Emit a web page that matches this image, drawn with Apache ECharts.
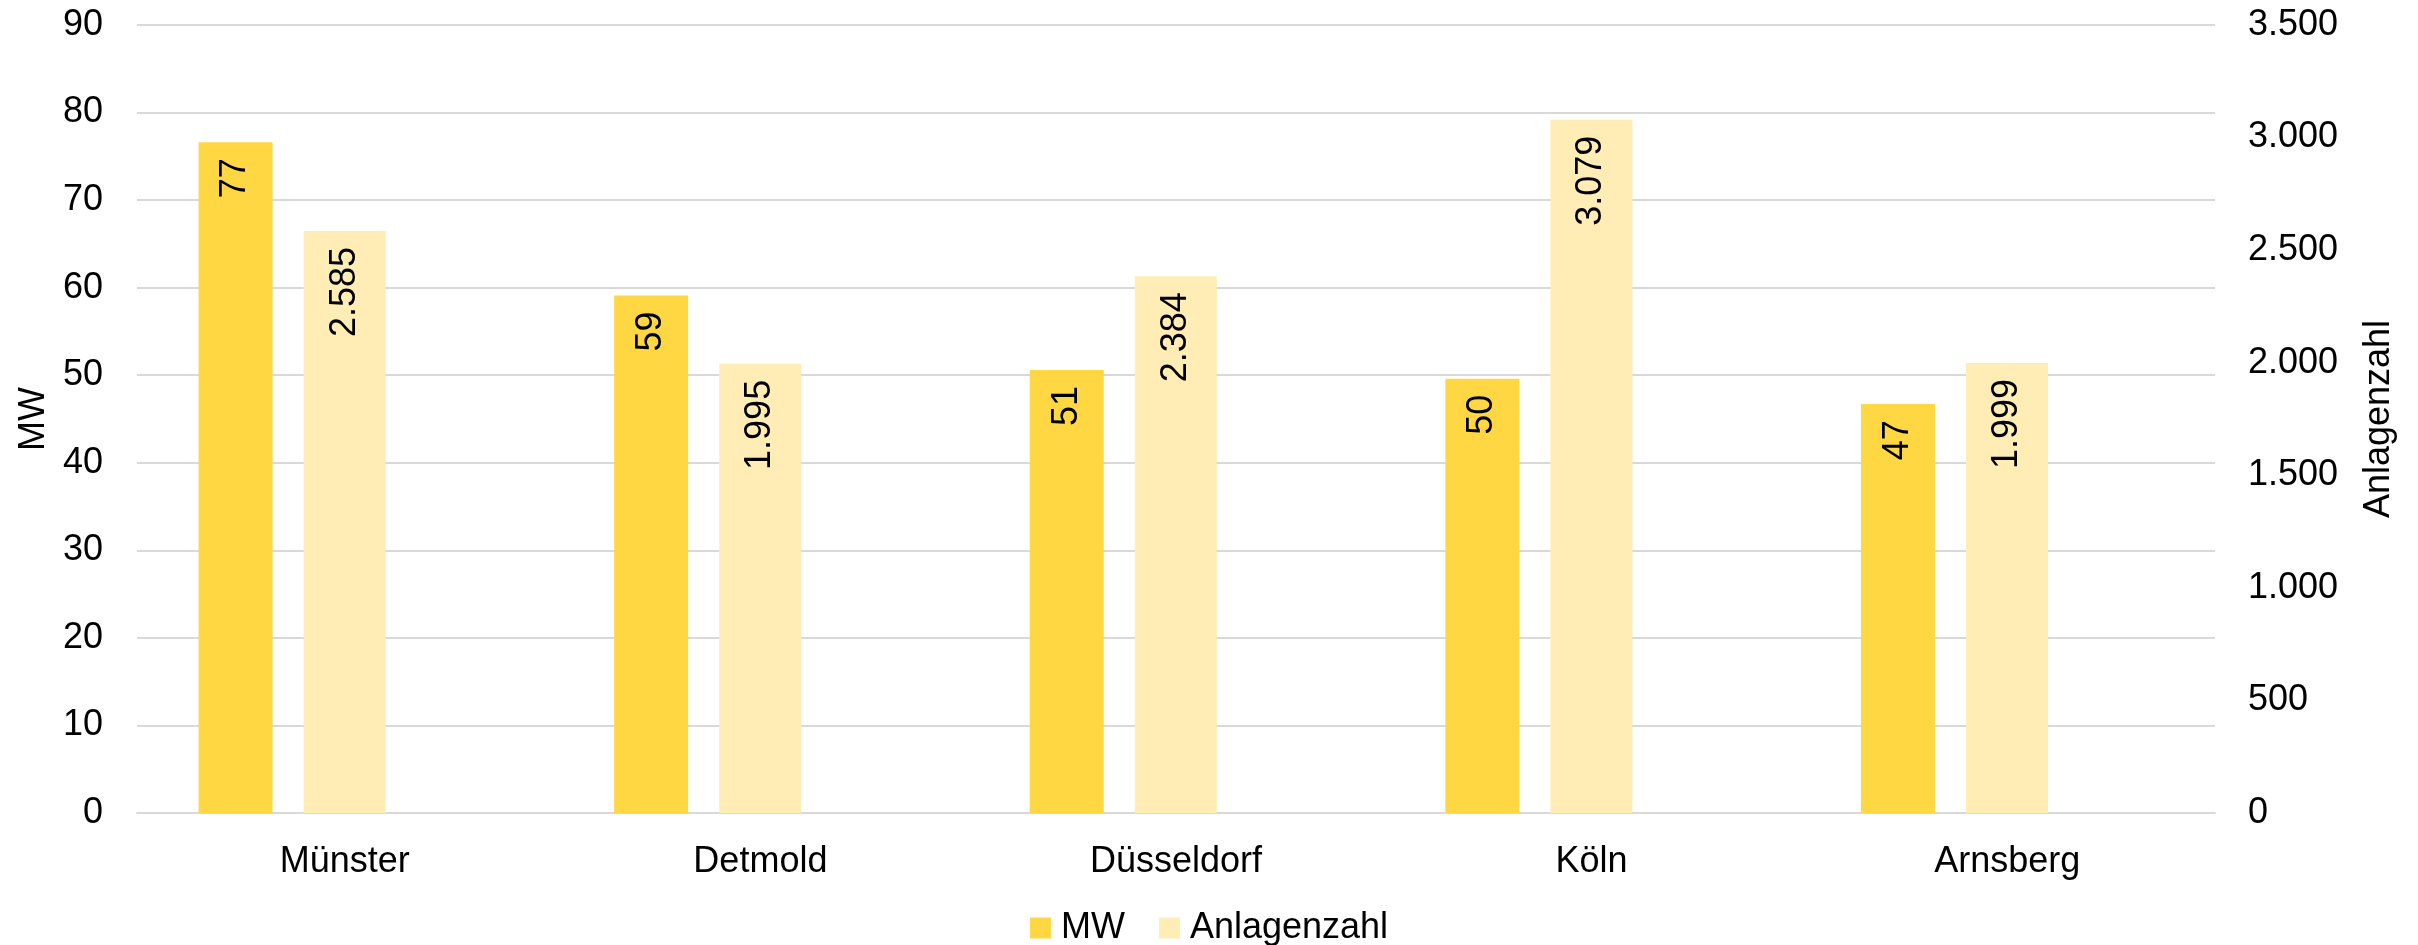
<!DOCTYPE html>
<html lang="de">
  <head>
    <meta charset="UTF-8" />
    <title>MW und Anlagenzahl</title>
    <script src="https://cdn.jsdelivr.net/npm/echarts@6/dist/echarts.min.js"></script>
  </head>
  <style>
    html,
    body {
      margin: 0;
      padding: 0;
      background: #fff;
    }
    #chart {
      width: 2418px;
      height: 945px;
    }
  </style>
  <body>
    <div id="chart"></div>
  </body>
  <script>
    const categories = ["Münster", "Detmold", "Düsseldorf", "Köln", "Arnsberg"];
    const mwValues = [76.6, 59.1, 50.6, 49.6, 46.7];
    const anlagenValues = [2585, 1995, 2384, 3079, 1999];
    const emptyValues = [null, null, null, null, null];

    const font = "Liberation Sans, Arial, sans-serif";
    const fmtThousands = (v) =>
      String(Math.round(v)).replace(/\B(?=(\d{3})+(?!\d))/g, ".");

    const chart = echarts.init(document.getElementById("chart"));

    const barLabel = {
      show: true,
      position: "insideTop",
      rotate: 90,
      align: "right",
      verticalAlign: "middle",
      distance: 16,
      color: "#000",
      fontSize: 36,
      fontFamily: font,
    };

    const option = {
      animation: false,
      textStyle: { fontFamily: font },
      legend: {
        data: ["MW", "Anlagenzahl"],
        top: 905,
        left: "center",
        itemWidth: 21,
        itemHeight: 21,
        itemGap: 34,
        icon: "rect",
        textStyle: {
          fontSize: 36,
          color: "#000",
          fontFamily: font,
          padding: [0, 0, 0, 5],
        },
      },
      grid: {
        left: 137,
        right: 203,
        top: 25,
        bottom: 132,
      },
      xAxis: {
        type: "category",
        data: categories,
        axisTick: { show: false },
        axisLine: { lineStyle: { color: "#d9d9d9", width: 2 } },
        axisLabel: { fontSize: 36, color: "#000", margin: 31, fontFamily: font },
      },
      yAxis: [
        {
          type: "value",
          name: "MW",
          nameLocation: "middle",
          nameRotate: 90,
          nameGap: 84,
          nameTextStyle: { fontSize: 36, color: "#000", fontFamily: font },
          min: 0,
          max: 90,
          interval: 10,
          axisLabel: { fontSize: 36, color: "#000", margin: 34, fontFamily: font },
          splitLine: { lineStyle: { color: "#d9d9d9", width: 2 } },
        },
        {
          type: "value",
          name: "Anlagenzahl",
          nameLocation: "middle",
          nameRotate: 90,
          nameGap: 146,
          nameTextStyle: { fontSize: 36, color: "#000", fontFamily: font },
          min: 0,
          max: 3500,
          interval: 500,
          axisLabel: {
            fontSize: 36,
            color: "#000",
            margin: 33,
            fontFamily: font,
            formatter: fmtThousands,
          },
          splitLine: { show: false },
        },
      ],
      series: [
        {
          name: "MW",
          type: "bar",
          yAxisIndex: 0,
          barWidth: 74,
          barGap: "42%",
          itemStyle: { color: "#FFD743" },
          label: { ...barLabel, formatter: (p) => Math.round(p.value) },
          data: mwValues,
        },
        {
          name: "Anlagenzahl",
          type: "bar",
          yAxisIndex: 1,
          barWidth: 82,
          barGap: "42%",
          itemStyle: { color: "#FFEDB5" },
          label: { ...barLabel, formatter: (p) => fmtThousands(p.value) },
          data: anlagenValues,
        },
        {
          // leerer Platzhalter, damit die Balken wie im Original links sitzen
          name: "",
          type: "bar",
          yAxisIndex: 1,
          barWidth: 71,
          barGap: "42%",
          data: emptyValues,
        },
      ],
    };

    chart.setOption(option);
  </script>
</html>
